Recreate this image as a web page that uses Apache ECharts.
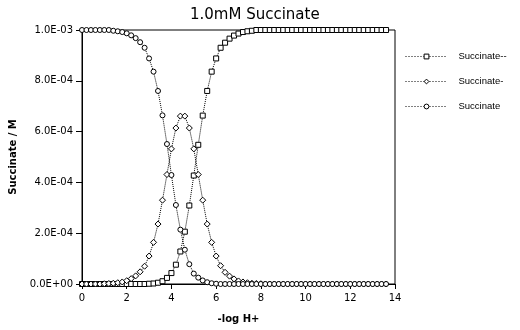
<!DOCTYPE html>
<html>
<head>
<meta charset="utf-8">
<script src="https://cdn.jsdelivr.net/npm/echarts@6/dist/echarts.min.js"></script>
<style>
html,body{margin:0;padding:0;background:#fff;}
#chart{width:520px;height:330px;}
</style>
</head>
<body>
<div id="chart"></div>
<script>
// x values: -log H+
const pH = [0,0.2,0.4,0.6,0.8,1.0,1.2,1.4,1.6,1.8,2.0,2.2,2.4,2.6,2.8,3.0,3.2,3.4,3.6,3.8,
  4.0,4.2,4.4,4.6,4.8,5.0,5.2,5.4,5.6,5.8,6.0,6.2,6.4,6.6,6.8,7.0,7.2,7.4,7.6,7.8,
  8.0,8.2,8.4,8.6,8.8,9.0,9.2,9.4,9.6,9.8,10.0,10.2,10.4,10.6,10.8,11.0,11.2,11.4,11.6,11.8,
  12.0,12.2,12.4,12.6,12.8,13.0,13.2,13.4,13.6];

// concentrations in mM (converted to M below)
const succinate2mM = [0,0,0,0,0,0,0,0,0,0,0,0,0,0,0,
  0.001,0.002,0.005,0.011,0.024,0.043,0.076,0.128,0.206,0.309,0.427,0.548,0.663,0.760,0.836,
  0.888,0.930,0.950,0.966,0.978,0.986,0.992,0.995,0.997,
  1,1,1,1,1,1,1,1,1,1,1,1,1,1,1,1,1,1,1,1,1,1,1,1,1,1,1,1,1,1];
const succinate1mM = [0,0,0,0,0,
  0.001,0.002,0.003,0.005,0.008,0.013,0.021,0.032,0.048,0.070,0.110,0.164,0.236,0.330,0.431,
  0.532,0.614,0.661,0.661,0.614,0.532,0.431,0.330,0.236,0.164,0.110,0.072,0.046,0.031,0.020,
  0.012,0.008,0.005,0.003,0.002,0.001,
  0,0,0,0,0,0,0,0,0,0,0,0,0,0,0,0,0,0,0,0,0,0,0,0,0,0,0,0];
const succinate0mM = [1,1,1,1,1,1,1,0.997,0.995,0.992,0.987,0.979,0.968,0.952,0.930,
  0.888,0.836,0.760,0.664,0.551,0.429,0.311,0.214,0.135,0.078,0.041,0.025,0.014,0.007,0.003,0.001,
  0,0,0,0,0,0,0,0,0,0,0,0,0,0,0,0,0,0,0,0,0,0,0,0,0,0,0,0,0,0,0,0,0,0,0,0,0,0];

const seriesNames = ['Succinate--','Succinate-','Succinate'];
const seriesSymbols = ['rect','diamond','circle'];
const seriesValues = [succinate2mM, succinate1mM, succinate0mM];
const xTicks = [0,2,4,6,8,10,12,14];

function sci(v){
  if (Math.abs(v) < 1e-12) return '0.0E+00';
  const e = Math.floor(Math.log10(Math.abs(v)) + 1e-9);
  const m = v / Math.pow(10, e);
  return m.toFixed(1) + 'E' + (e < 0 ? '-' : '+') + String(Math.abs(e)).padStart(2, '0');
}

const chart = echarts.init(document.getElementById('chart'), null, {renderer: 'canvas'});
const font = 'DejaVu Sans';
chart.setOption({
  animation: false,
  backgroundColor: '#fff',
  title: {
    text: '1.0mM Succinate',
    left: 185, top: 3,
    textStyle: {fontFamily: font, fontSize: 15, fontWeight: 'normal', color: '#000'}
  },
  legend: {
    orient: 'vertical',
    left: 405, top: 50.5,
    padding: 0,
    itemWidth: 42, itemHeight: 6,
    itemGap: 13,
    data: seriesNames,
    itemStyle: {color: '#fff', borderColor: '#000', borderWidth: 1},
    lineStyle: {color: '#000', width: 1, type: [1, 2], cap: 'butt'},
    textStyle: {fontFamily: 'Liberation Sans', fontSize: 9.5, color: '#000', lineHeight: 12, padding: [0,0,0,6]}
  },
  grid: {
    left: 82, right: 125, top: 30, bottom: 46,
    show: true, borderColor: '#000', borderWidth: 1, backgroundColor: 'transparent'
  },
  xAxis: {
    type: 'value', min: 0, max: 14, interval: 2,
    name: '-log H+', nameLocation: 'middle', nameGap: 30,
    nameTextStyle: {fontFamily: font, fontSize: 10, fontWeight: 'bold', color: '#000'},
    axisLine: {lineStyle: {color: '#000', width: 1}},
    axisTick: {show: true, length: 5, lineStyle: {color: '#000'}},
    axisLabel: {margin: 9, fontFamily: font, fontSize: 10, color: '#000',
      formatter: v => xTicks.includes(v) ? String(v) : ''},
    splitLine: {show: false}
  },
  yAxis: {
    type: 'value', min: 0, max: 0.001, interval: 0.0002,
    name: 'Succinate / M', nameLocation: 'middle', nameGap: 52, nameRotate: 90,
    nameTextStyle: {fontFamily: font, fontSize: 10, fontWeight: 'bold', color: '#000'},
    axisLine: {show: true, lineStyle: {color: '#000', width: 1}},
    axisTick: {show: true, length: 6, lineStyle: {color: '#000'}},
    axisLabel: {margin: 9, fontFamily: font, fontSize: 10, color: '#000', formatter: v => sci(v)},
    splitLine: {show: false}
  },
  series: seriesNames.map((name, k) => ({
    name: name,
    type: 'line',
    data: pH.map((x, i) => [x, seriesValues[k][i] * 1e-3]),
    symbol: seriesSymbols[k],
    symbolSize: k === 1 ? 6 : 5,
    showAllSymbol: true,
    lineStyle: {color: '#000', width: 1, type: [1, 1]},
    itemStyle: {color: '#fff', borderColor: '#000', borderWidth: 1},
    emphasis: {disabled: true}
  }))
});
</script>
</body>
</html>
